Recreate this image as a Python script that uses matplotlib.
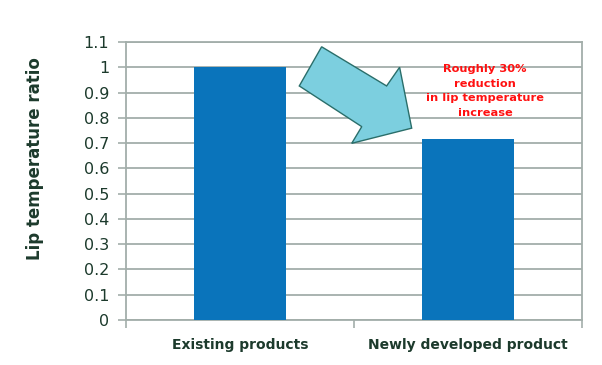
import matplotlib
matplotlib.use("Agg")
import matplotlib.pyplot as plt
from matplotlib.patches import Polygon
from matplotlib.ticker import FuncFormatter, FixedLocator

categories = ["Existing products", "Newly developed product"]
values = [1.0, 0.716]
yticks = [0, 0.1, 0.2, 0.3, 0.4, 0.5, 0.6, 0.7, 0.8, 0.9, 1.0, 1.1]
note = "Roughly 30%\nreduction\nin lip temperature\nincrease"

text_col = "#1c3a2c"
grid_col = "#a3aeaa"
bar_col = "#0a74bb"

fig = plt.figure(figsize=(6.02, 3.65), dpi=100)
ax = fig.add_axes([0.2093, 0.1233, 0.7575, 0.7617])

x = list(range(len(categories)))
ax.bar(x, values, width=0.4, color=bar_col, zorder=3)

ax.set_xlim(-0.5, 1.5)
ax.set_ylim(0, 1.1)
ax.set_yticks(yticks)
ax.yaxis.set_major_formatter(FuncFormatter(lambda v, p: f"{v:g}"))
ax.yaxis.grid(True, color=grid_col, linewidth=1.3, zorder=0)
ax.set_axisbelow(True)

ax.set_xticks(x)
ax.set_xticklabels(categories, fontsize=10, fontweight="bold", color=text_col)
ax.xaxis.set_minor_locator(FixedLocator([-0.5, 0.5, 1.5]))
ax.tick_params(axis="x", which="major", length=0, pad=13)
ax.tick_params(axis="x", which="minor", length=6, color=grid_col, width=1.2)
ax.tick_params(axis="y", length=6, color=grid_col, width=1.2, labelsize=11.5,
               labelcolor=text_col, pad=6)

for s in ax.spines.values():
    s.set_color(grid_col)
    s.set_linewidth(1.3)

ax.set_ylabel("Lip temperature ratio", fontsize=12, fontweight="bold",
              color=text_col)
ax.yaxis.set_label_coords(-0.18, 0.579)

arrow_pts = [(0.358, 1.081), (0.643, 0.926), (0.700, 1.000), (0.753, 0.759),
             (0.490, 0.699), (0.534, 0.765), (0.260, 0.926)]
ax.add_patch(Polygon(arrow_pts, closed=True, facecolor="#7ccfdf",
                     edgecolor="#2a6e6a", linewidth=1.0, zorder=4, clip_on=False))

ax.text(1.075, 0.906, note, color="#ff1010", fontsize=8.2, fontweight="bold",
        ha="center", va="center", linespacing=1.55, zorder=5)

fig.savefig("out.png", dpi=100)
